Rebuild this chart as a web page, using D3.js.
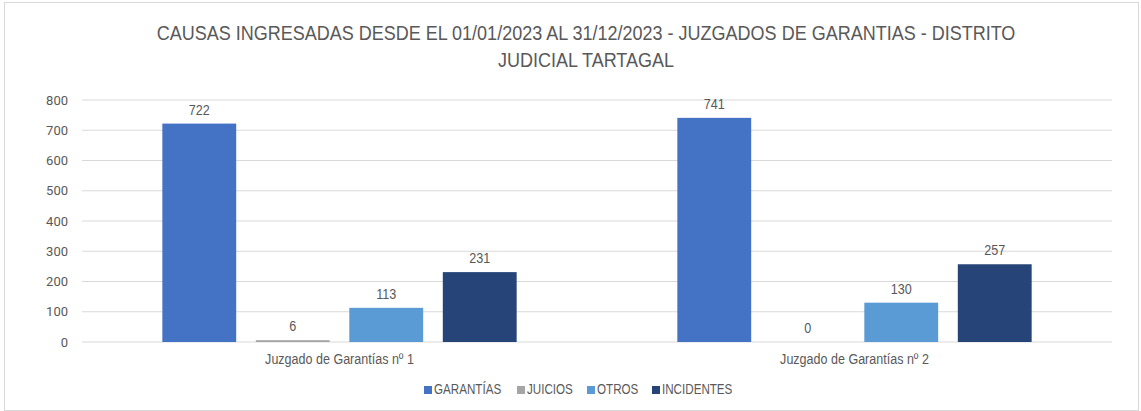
<!DOCTYPE html>
<html>
<head>
<meta charset="utf-8">
<script src="https://cdn.jsdelivr.net/npm/d3@7"></script>
<style>
  body { margin: 0; background: #fff; }
  text { font-family: "Liberation Sans", Arial, sans-serif; fill: #595959; }
</style>
</head>
<body>
<div id="chart"></div>
<script>
const categories = ["Juzgado de Garantías nº 1", "Juzgado de Garantías nº 2"];
const seriesNames = ["GARANTÍAS", "JUICIOS", "OTROS", "INCIDENTES"];
const garantias = [722, 741];
const juicios = [6, 0];
const otros = [113, 130];
const incidentes = [231, 257];
const yTicks = [0, 100, 200, 300, 400, 500, 600, 700, 800];
const titleLines = ["CAUSAS INGRESADAS DESDE EL 01/01/2023 AL 31/12/2023 - JUZGADOS DE GARANTIAS - DISTRITO", "JUDICIAL TARTAGAL"];

let colors = {"GARANTÍAS": "#4472C4", "JUICIOS": "#A5A5A5", "OTROS": "#5B9BD5", "INCIDENTES": "#264478"};
let seriesValues = [garantias, juicios, otros, incidentes];

let data = categories.map((c, i) => ({
    name: c,
    values: seriesNames.map((s, j) => ({key: s, value: seriesValues[j][i]}))
}));

// squeeze text horizontally, the original uses a narrow font
function narrow(sel, factor) {
    sel.each(function() {
        let w = this.getComputedTextLength();
        d3.select(this)
            .attr("textLength", w * factor)
            .attr("lengthAdjust", "spacingAndGlyphs");
    });
}

let W = 1141, H = 411;
let margin = {top: 100, left: 82, right: 29, bottom: 69};
let width = W - margin.left - margin.right;
let height = H - margin.top - margin.bottom;

let svg = d3.select("#chart").append("svg")
    .attr("width", W)
    .attr("height", H);

// chart border
svg.append("rect")
    .attr("x", 4.5).attr("y", 2.5)
    .attr("width", W - 7).attr("height", H - 3)
    .attr("fill", "#fff")
    .attr("stroke", "#d9d9d9");

svg.append("g").selectAll("text")
    .data(titleLines)
    .enter().append("text")
    .attr("x", 586)
    .attr("y", (d, i) => 40 + i * 27)
    .attr("text-anchor", "middle")
    .style("font-size", "20px")
    .text(d => d)
    .call(narrow, 0.9);

let x0 = d3.scaleBand().domain(categories).range([0, width]);
let outer = x0.bandwidth() * 0.156;
let x1 = d3.scaleBand().domain(seriesNames)
    .range([outer, x0.bandwidth() - outer])
    .paddingInner(0.21);
let y = d3.scaleLinear().domain([0, 800]).range([height, 0]);

let g = svg.append("g")
    .attr("transform", `translate(${margin.left},${margin.top})`);

// gridlines
g.append("g").selectAll("line")
    .data(yTicks)
    .enter().append("line")
    .attr("x1", 0).attr("x2", width)
    .attr("y1", d => y(d)).attr("y2", d => y(d))
    .attr("stroke", "#d9d9d9")
    .attr("stroke-width", 1);

let yAxis = d3.axisLeft(y).tickValues(yTicks).tickSize(0).tickPadding(14);
g.append("g")
    .attr("class", "y-axis")
    .call(yAxis)
    .call(a => a.select(".domain").remove())
    .selectAll("text")
    .style("font-family", "Roboto, sans-serif")
    .style("font-size", "13px")
    .attr("fill", "#595959");

let xAxis = d3.axisBottom(x0).tickSize(0).tickPadding(12);
g.append("g")
    .attr("class", "x-axis")
    .attr("transform", `translate(0,${height})`)
    .call(xAxis)
    .call(a => a.select(".domain").remove())
    .selectAll("text")
    .style("font-family", null)
    .style("font-size", "14px")
    .attr("fill", "#595959")
    .call(narrow, 0.895);

let groups = g.selectAll("g.cat")
    .data(data)
    .enter().append("g")
    .attr("class", "cat")
    .attr("transform", d => `translate(${x0(d.name)},0)`);

groups.selectAll("rect")
    .data(d => d.values)
    .enter().append("rect")
    .attr("x", d => x1(d.key))
    .attr("y", d => y(d.value))
    .attr("width", x1.bandwidth())
    .attr("height", d => height - y(d.value))
    .attr("fill", d => colors[d.key]);

groups.selectAll("text.lbl")
    .data(d => d.values)
    .enter().append("text")
    .attr("class", "lbl")
    .attr("x", d => x1(d.key) + x1.bandwidth() / 2)
    .attr("y", d => y(d.value) - 9)
    .attr("text-anchor", "middle")
    .style("font-size", "14px")
    .text(d => d.value)
    .call(narrow, 0.9);

// legend
let legendPos = [424, 517, 587, 652];
let legend = svg.append("g").selectAll("g")
    .data(seriesNames)
    .enter().append("g")
    .attr("transform", (d, i) => `translate(${legendPos[i]},394)`);
legend.append("rect")
    .attr("x", 0).attr("y", -8)
    .attr("width", 8).attr("height", 8)
    .attr("fill", d => colors[d]);
legend.append("text")
    .attr("x", 10).attr("y", 0)
    .style("font-size", "14px")
    .text(d => d)
    .call(narrow, 0.83);
</script>
</body>
</html>
